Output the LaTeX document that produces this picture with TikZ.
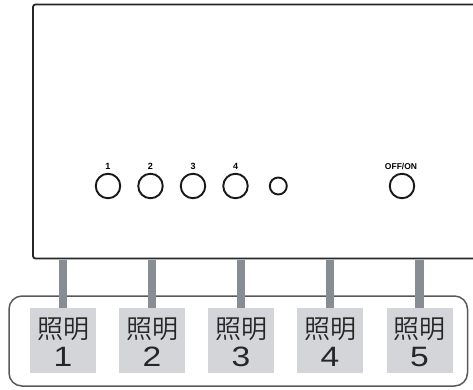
\documentclass[tikz,border=0pt]{standalone}
\usepackage{fontspec}
\setmainfont{Liberation Sans}
\newfontfamily\jpfont[UprightFont={* DemiLight}]{Noto Sans CJK JP}
\begin{document}
\begin{tikzpicture}[x=1pt,y=-1pt,
  btn/.style={circle,draw=black!90,line width=1.9pt,inner sep=0pt,minimum size=24.5pt},
  ledbtn/.style={circle,draw=black!90,line width=1.9pt,inner sep=0pt,minimum size=17pt},
  smalltxt/.style={font=\fontsize{9}{9}\selectfont\bfseries,inner sep=0pt},
  lbox/.style={fill=labelgray,minimum width=66pt,minimum height=65pt,inner sep=0pt},
  kanji/.style={font=\jpfont\fontsize{26}{26}\selectfont,text=black!85,inner sep=0pt},
  digit/.style={font=\fontsize{28}{28}\selectfont,text=black!85,inner sep=0pt,xscale=1.2},
  bar/.style={draw=bargray,line width=8.5pt}]
\definecolor{labelgray}{HTML}{D3D5D9}
\definecolor{bargray}{HTML}{878D93}
\useasboundingbox (0,0) rectangle (473,389);
% outer rounded frame
\draw[draw=black!65,line width=1.5pt,rounded corners=13pt] (9,296) rectangle (467.5,386);
% main panel
\draw[draw=black!85,line width=1.8pt,rounded corners=2.5pt] (474,4.5) -- (33,4.5) -- (33,258.5) -- (474,258.5);
% label boxes
\foreach \i/\x in {1/63,2/152,3/241,4/330,5/419.5}{
  \node[lbox] (l\i) at (\x,340.5) {};
  \node[kanji] (k\i) at (\x,329) {照明};
  \node[digit] (d\i) at (\x,357) {\i};
  \coordinate (t\i) at (\x,259.5);
  \draw[bar] (t\i) -- (l\i.north);
}
% buttons
\foreach \i/\x in {1/108,2/150.5,3/193,4/235.5}{
  \node[btn] (b\i) at (\x,186) {};
  \node[smalltxt] (n\i) at (\x,166) {\i};
}
\node[ledbtn] (led) at (278.3,186) {};
\node[btn] (off) at (402,186) {};
\node[smalltxt,font=\fontsize{8.5}{8.5}\selectfont\bfseries] (offl) at (401,166) {OFF/ON};
\end{tikzpicture}
\end{document}
